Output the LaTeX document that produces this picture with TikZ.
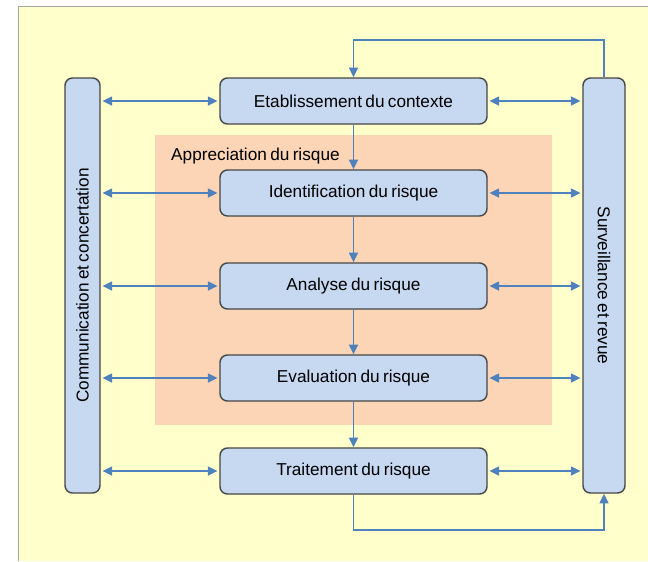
\documentclass[tikz,border=0pt]{standalone}
\usepackage{fontspec}
\setmainfont{Liberation Sans}[WordSpace=0.7]
\usetikzlibrary{arrows.meta}
\definecolor{fondjaune}{RGB}{255,255,204}
\definecolor{bleuboite}{RGB}{198,217,241}
\definecolor{bordboite}{RGB}{70,70,70}
\definecolor{orangezone}{RGB}{251,213,181}
\definecolor{bleufleche}{RGB}{79,129,189}
\begin{document}
\begin{tikzpicture}
[auto,
 font=\fontsize{9.8}{12}\selectfont,
 block/.style ={rectangle, draw=bordboite, thick, fill=bleuboite, minimum width=5.34cm, minimum height=0.92cm, align=center, rounded corners=0.15cm},
 side/.style ={rectangle, draw=bordboite, thick, fill=bleuboite, minimum height=8.3cm, inner sep=0pt, rounded corners=0.15cm},
 line/.style ={draw=bleufleche, line width=1.1pt, -{Triangle[length=5.5pt,width=5pt]}},
 dline/.style ={draw=bleufleche, line width=1.1pt, {Triangle[length=5.5pt,width=5pt]}-{Triangle[length=5.5pt,width=5pt]}, shorten <=1pt, shorten >=1pt}]
\useasboundingbox (0,0) rectangle (12.96,-11.22);
% fond
\fill[fondjaune] (0.36,-0.12) rectangle (12.96,-11.22);
\draw[gray!70] (12.96,-0.12) -- (0.36,-0.12) -- (0.36,-11.22);
\fill[orangezone] (3.1,-2.7) rectangle (11.04,-8.5);
\node[anchor=west] (appr) at (3.3,-3.12) {Appreciation du risque};
% boites
\path (7.07,-2.02) node[block] (E) {Etablissement du contexte}
      (7.07,-3.86) node[block] (I) {Identification du risque}
      (7.07,-5.72) node[block] (A) {Analyse du risque}
      (7.07,-7.56) node[block] (V) {Evaluation du risque}
      (7.07,-9.42) node[block] (T) {Traitement du risque};
\node[side, minimum width=0.7cm] (C) at (1.65,-5.71) {\rotatebox{90}{Communication et concertation}};
\node[side, minimum width=0.84cm] (S) at (12.08,-5.71) {\rotatebox{-90}{Surveillance et revue}};
% fleches verticales
\draw[line] (E.south) -- (I.north);
\draw[line] (I.south) -- (A.north);
\draw[line] (A.south) -- (V.north);
\draw[line] (V.south) -- (T.north);
% boucles
\path (E.north) ++(0,0.74) coordinate (haut);
\draw[line] (S.north) |- (haut) -- (E.north);
\draw[line] (T.south) -- ++(0,-0.7) -| (S.south);
% echanges
\foreach \b in {E,I,A,V,T}{
  \draw[dline] (C.east |- \b.west) -- (\b.west);
  \draw[dline] (\b.east) -- (S.west |- \b.east);
}
\end{tikzpicture}
\end{document}
